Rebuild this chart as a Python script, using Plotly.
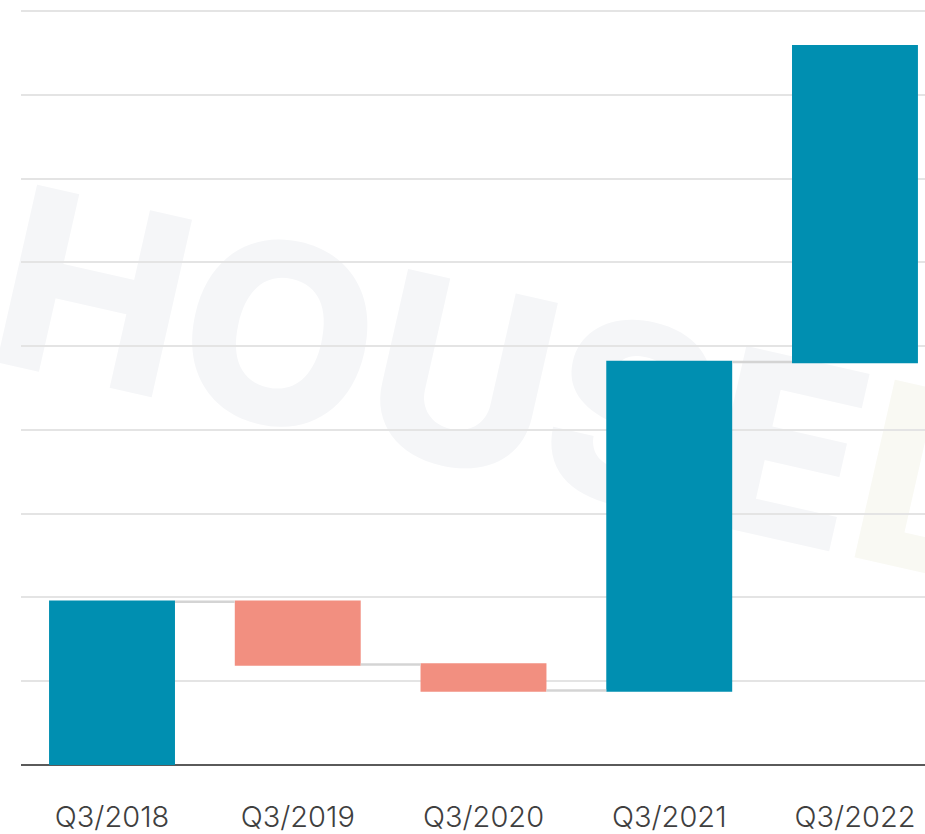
import plotly.graph_objects as go

categories = ["Q3/2018", "Q3/2019", "Q3/2020", "Q3/2021", "Q3/2022"]
measures = ["absolute", "relative", "relative", "relative", "relative"]
values = [1.95, -0.75, -0.31, 3.92, 3.77]

TEAL = "#008fb1"
SALMON = "#f28f80"

fig = go.Figure()
fig.add_trace(go.Waterfall(
    x=categories,
    y=values,
    measure=measures,
    increasing=dict(marker=dict(color=TEAL, line=dict(width=0))),
    decreasing=dict(marker=dict(color=SALMON, line=dict(width=0))),
    totals=dict(marker=dict(color=TEAL, line=dict(width=0))),
    connector=dict(line=dict(color="#d4d4d4", width=2.5), mode="between"),
    hoverinfo="skip",
    showlegend=False,
))

# watermark, drawn below gridlines and bars
fig.add_shape(
    type="rect", xref="paper", yref="paper",
    x0=0.483, x1=0.583, y0=0.459, y1=0.559,
    line=dict(width=0), fillcolor="rgba(0,0,0,0)", layer="below",
    label=dict(
        text="HOUSE<span style='color:#f9f9f3'>L</span>",
        textposition="middle center",
        textangle=12.8,
        font=dict(family="Inter", size=250, color="#f5f6f8", weight=800),
    ),
)

fig.update_layout(
    width=925, height=834,
    margin=dict(l=21, r=0, t=0, b=67),
    paper_bgcolor="white", plot_bgcolor="white",
    waterfallgap=0.322,
    xaxis=dict(
        range=[-0.49, 4.377],
        showgrid=False, showline=False, ticks="",
        tickfont=dict(family="Inter", size=29, color="#3f3f3f", weight=300),
        ticklabelstandoff=32,
    ),
    yaxis=dict(
        range=[0, 9.131], dtick=1, tick0=0,
        showticklabels=False, ticks="",
        showgrid=True, gridcolor="#e4e4e4", gridwidth=1.5,
        zeroline=True, zerolinecolor="#5a5a5a", zerolinewidth=2,
        showline=False,
    ),
)

fig.write_html(
    "out.html",
    config={"displayModeBar": False},
    post_script="document.body.style.margin='0';document.body.style.overflow='hidden';",
)
